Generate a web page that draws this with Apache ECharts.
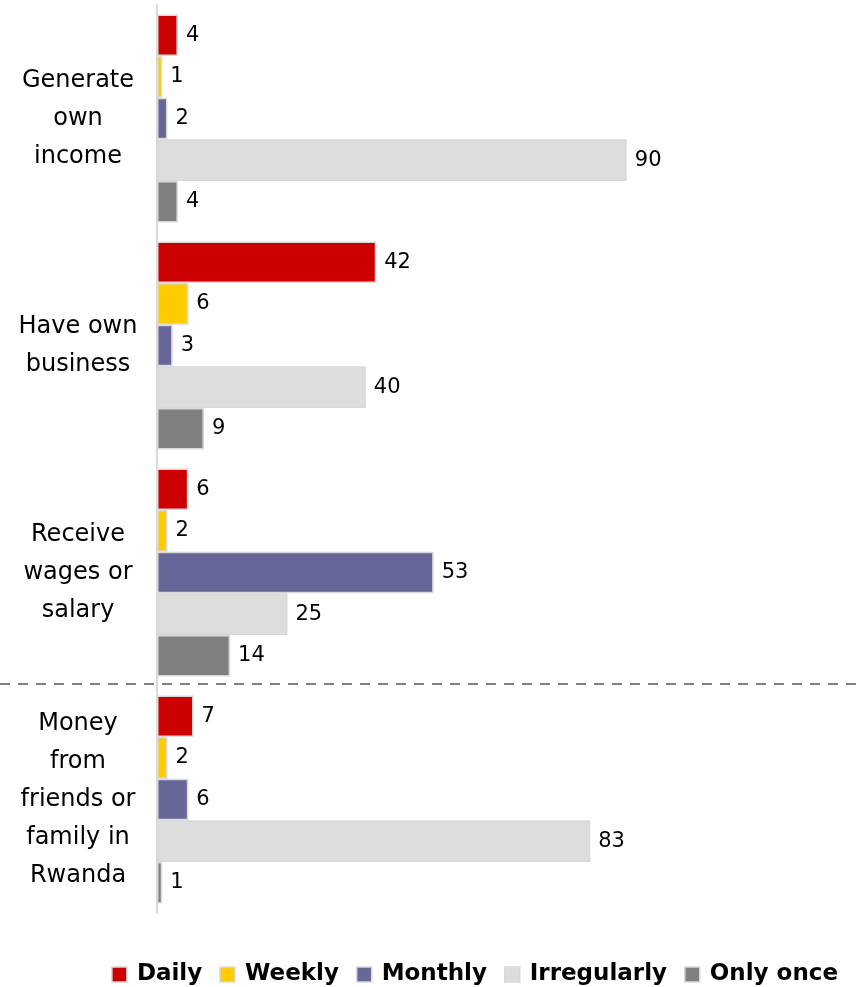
<!DOCTYPE html>
<html>
<head>
<meta charset="utf-8">
<script src="https://cdn.jsdelivr.net/npm/echarts@6/dist/echarts.min.js"></script>
<style>
  html, body { margin: 0; padding: 0; background: #fff; }
  #chart { width: 859px; height: 987px; }
</style>
</head>
<body>
<div id="chart"></div>
<script>
// Sources of money, by how often they are received (%)
const categories = [
  'Generate\nown\nincome',
  'Have own\nbusiness',
  'Receive\nwages or\nsalary',
  'Money\nfrom\nfriends or\nfamily in\nRwanda'
];
const seriesNames = ['Daily', 'Weekly', 'Monthly', 'Irregularly', 'Only once'];
const daily       = [4, 42, 6, 7];
const weekly      = [1, 6, 2, 2];
const monthly     = [2, 3, 53, 6];
const irregularly = [90, 40, 25, 83];
const onlyOnce    = [4, 9, 14, 1];
const seriesColors = ['#CC0000', '#FFCC00', '#666699', '#DDDDDD', '#808080'];

const values = [daily, weekly, monthly, irregularly, onlyOnce];
const FONT = '"DejaVu Sans", sans-serif';

const chart = echarts.init(document.getElementById('chart'), null, { renderer: 'canvas' });

const series = seriesNames.map((name, i) => ({
  name: name,
  type: 'bar',
  data: values[i],
  barGap: '0%',
  barCategoryGap: '8.4%',
  itemStyle: {
    color: seriesColors[i],
    borderColor: '#D9D9D9',
    borderWidth: 1.5
  },
  label: {
    show: true,
    position: 'right',
    distance: 8,
    color: '#000',
    fontFamily: FONT,
    fontSize: 21
  },
  emphasis: { disabled: true }
}));

chart.setOption({
  animation: false,
  backgroundColor: '#fff',
  grid: { left: 157, right: 180, top: 5, height: 908 },
  xAxis: {
    type: 'value',
    min: 0,
    max: 100,
    show: false
  },
  yAxis: {
    type: 'category',
    data: categories,
    inverse: true,
    axisLine: { show: true, lineStyle: { color: '#D9D9D9', width: 2 } },
    axisTick: { show: false },
    splitLine: { show: false },
    axisLabel: {
      color: '#000',
      fontFamily: FONT,
      fontSize: 24,
      lineHeight: 38,
      align: 'center',
      margin: 79
    }
  },
  legend: {
    data: seriesNames,
    right: 16,
    top: 958,
    icon: 'rect',
    itemWidth: 15,
    itemHeight: 15,
    itemGap: 17,
    itemStyle: { borderColor: '#D9D9D9', borderWidth: 1.5 },
    textStyle: {
      color: '#000',
      fontFamily: FONT,
      fontWeight: 'bold',
      fontSize: 23,
      padding: [0, 0, 0, 5]
    },
    selectedMode: false
  },
  series: series
});

// Dashed separator between the third and fourth category
const c3 = chart.convertToPixel({ yAxisIndex: 0 }, categories[2]);
const c4 = chart.convertToPixel({ yAxisIndex: 0 }, categories[3]);
const sepY = Math.round((c3 + c4) / 2) - 2;
chart.setOption({
  graphic: [{
    type: 'line',
    shape: { x1: 0, y1: sepY, x2: 859, y2: sepY },
    style: { stroke: '#808080', lineWidth: 2, lineDash: [10, 8] },
    silent: true,
    z: 10
  }]
});
</script>
</body>
</html>
